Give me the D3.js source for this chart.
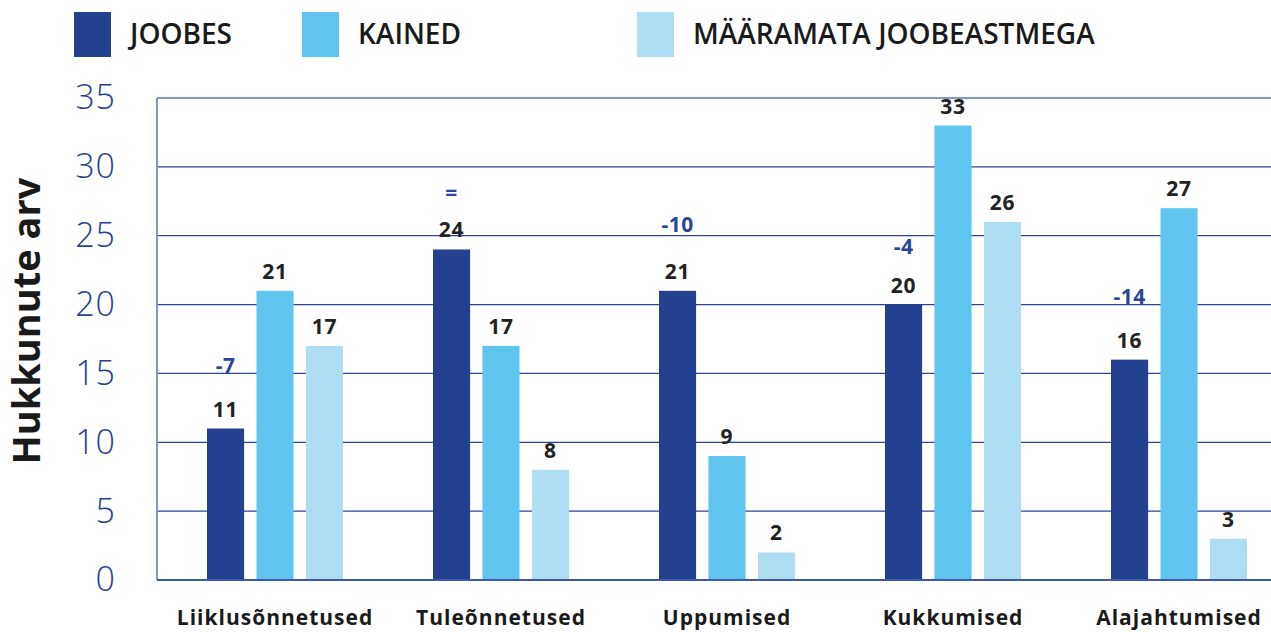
<!DOCTYPE html>
<html>
  <head>
    <title>Hukkunute arv</title>
    <meta charset="utf-8">
    <style>
      body { background-color: #fff; margin: 0; overflow: hidden; }
      svg { display: block; font-family: "Open Sans", "Noto Sans", sans-serif; }
    </style>
    <script src="https://cdnjs.cloudflare.com/ajax/libs/d3/7.8.5/d3.min.js"></script>
  </head>
  <body>
    <svg id="chart" width="1271" height="632"></svg>
    <script>
      var categories = ['Liiklusõnnetused', 'Tuleõnnetused', 'Uppumised', 'Kukkumised', 'Alajahtumised'];
      var series = ['JOOBES', 'KAINED', 'MÄÄRAMATA JOOBEASTMEGA'];
      var joobes = [11, 24, 21, 20, 16];
      var kained = [21, 17, 9, 33, 27];
      var maaramata = [17, 8, 2, 26, 3];
      // muutus (joobes), and the height where the note sits
      var changes = ['-7', '=', '-10', '-4', '-14'];
      var changeLevel = [15.6, 28.1, 25.8, 24.2, 20.6];
      var yTicks = [0, 5, 10, 15, 20, 25, 30, 35];
      var colors = ['#24418f', '#5fc5ee', '#afddf3'];

      var svg = d3.select('#chart');
      var plotLeft = 157, plotRight = 1271, plotTop = 98, plotBottom = 580;

      var y = d3.scaleLinear().domain([0, 35]).range([plotBottom, plotTop]);
      var x0 = d3.scaleBand().domain(categories).range([162, 1292]);
      var x1 = d3.scaleBand().domain(series).range([45, 181]).paddingInner(0.25);
      var color = d3.scaleOrdinal().domain(series).range(colors);

      var rows = categories.map(function(c, i) {
        return { cat: c, values: [joobes[i], kained[i], maaramata[i]] };
      });

      // grid
      svg.append('g').selectAll('line').data(yTicks.filter(function(t) { return t > 0 && t < 35; }))
        .enter().append('line')
        .attr('x1', plotLeft).attr('x2', plotRight)
        .attr('y1', function(d) { return y(d); }).attr('y2', function(d) { return y(d); })
        .attr('stroke', '#2a4599').attr('stroke-width', 1.3);
      svg.append('line').attr('x1', plotLeft).attr('x2', plotRight).attr('y1', y(35)).attr('y2', y(35))
        .attr('stroke', '#8296c8').attr('stroke-width', 2);
      svg.append('line').attr('x1', plotLeft).attr('x2', plotLeft).attr('y1', y(35)).attr('y2', y(0))
        .attr('stroke', '#8296c8').attr('stroke-width', 2);

      // y axis labels
      var yAxis = d3.axisLeft(y).tickValues(yTicks).tickSize(0).tickPadding(0);
      var ga = svg.append('g').attr('transform', 'translate(116,0)').call(yAxis);
      ga.select('.domain').remove();
      ga.selectAll('text').attr('fill', '#2a3f91').attr('font-size', 34).attr('font-weight', 300)
        .attr('letter-spacing', 1).attr('font-family', '"Open Sans", sans-serif');

      svg.append('text').attr('transform', 'translate(40,' + 321 + ') rotate(-90)')
        .attr('text-anchor', 'middle').attr('font-size', 38).attr('font-weight', 700)
        .attr('fill', '#1a1a1a').text('Hukkunute arv');

      // bars
      var groups = svg.append('g').selectAll('g').data(rows).enter().append('g')
        .attr('transform', function(d) { return 'translate(' + x0(d.cat) + ',0)'; });
      groups.selectAll('rect').data(function(d) {
        return d.values.map(function(v, j) { return { s: series[j], v: v }; });
      }).enter().append('rect')
        .attr('x', function(d) { return x1(d.s); })
        .attr('width', x1.bandwidth())
        .attr('y', function(d) { return y(d.v); })
        .attr('height', function(d) { return y(0) - y(d.v); })
        .attr('fill', function(d) { return color(d.s); });
      groups.selectAll('text.val').data(function(d) {
        return d.values.map(function(v, j) { return { s: series[j], v: v }; });
      }).enter().append('text').attr('class', 'val')
        .attr('x', function(d) { return x1(d.s) + x1.bandwidth() / 2; })
        .attr('y', function(d) { return y(d.v) - 12; })
        .attr('text-anchor', 'middle').attr('font-size', 21).attr('font-weight', 700)
        .attr('letter-spacing', 0.8).attr('fill', '#222').text(function(d) { return d.v; });
      groups.append('text')
        .attr('x', x1(series[0]) + x1.bandwidth() / 2)
        .attr('y', function(d, i) { return y(changeLevel[i]); })
        .attr('dy', '0.35em')
        .attr('text-anchor', 'middle').attr('font-size', 21).attr('font-weight', 700)
        .attr('letter-spacing', 0.5).attr('fill', '#2a4599').text(function(d, i) { return changes[i]; });

      // bottom axis
      svg.append('line').attr('x1', plotLeft).attr('x2', plotRight).attr('y1', y(0)).attr('y2', y(0))
        .attr('stroke', '#3a5aa8').attr('stroke-width', 2);
      var xAxis = d3.axisBottom(x0).tickSize(0).tickPadding(0);
      var gx = svg.append('g').attr('transform', 'translate(0,' + 625 + ')').call(xAxis);
      gx.select('.domain').remove();
      gx.selectAll('text').attr('dy', 0).attr('font-size', 21).attr('font-weight', 700)
        .attr('letter-spacing', 1).attr('fill', '#1a1a1a').attr('font-family', '"Open Sans", sans-serif');

      // legend
      var legX = [74, 302, 637];
      var leg = svg.append('g').selectAll('g').data(series).enter().append('g')
        .attr('transform', function(d, i) { return 'translate(' + legX[i] + ',12)'; });
      leg.append('rect').attr('width', 37).attr('height', 45).attr('fill', function(d) { return color(d); });
      leg.append('text').attr('x', 56).attr('y', 32).attr('font-size', 28).attr('font-weight', 600)
        .attr('fill', '#1a1a1a').text(function(d) { return d; });
    </script>
  </body>
</html>
